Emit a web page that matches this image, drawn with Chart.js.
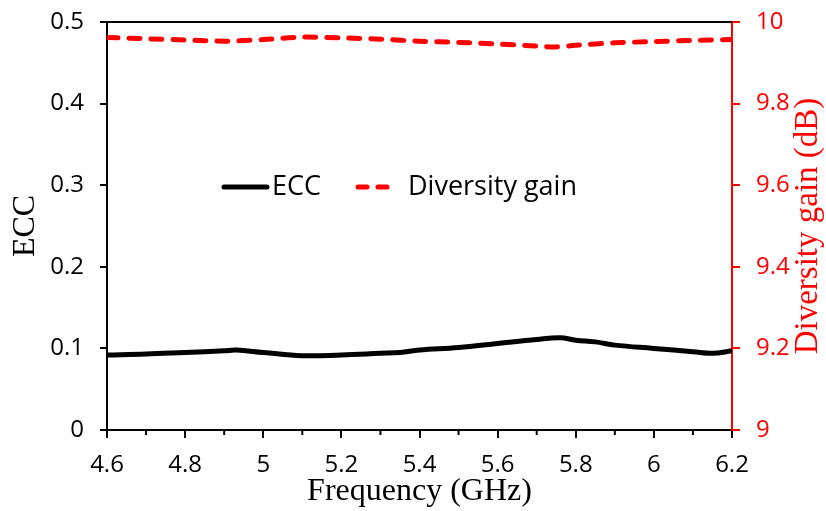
<!DOCTYPE html>
<html>
<head>
<meta charset="utf-8">
<script src="https://cdn.jsdelivr.net/npm/chart.js@4/dist/chart.umd.min.js"></script>
<style>
  body { margin: 0; background: #fff; }
  #wrap { width: 826px; height: 511px; }
</style>
</head>
<body>
<div id="wrap"><canvas id="eccChart" width="826" height="511"></canvas></div>
<script>
// values
const eccFreq = [4.6, 4.7, 4.8, 4.9, 4.93, 5.0, 5.1, 5.2, 5.3, 5.35, 5.4, 5.5, 5.6, 5.7, 5.76, 5.8, 5.85, 5.9, 6.0, 6.1, 6.15, 6.2]
const eccValues = [0.092, 0.093, 0.095, 0.097, 0.098, 0.095, 0.091, 0.092, 0.094, 0.095, 0.098, 0.101, 0.106, 0.111, 0.113, 0.110, 0.108, 0.104, 0.100, 0.096, 0.094, 0.097]

const dgFreq = [4.6, 4.7, 4.8, 4.9, 5.0, 5.1, 5.2, 5.3, 5.4, 5.5, 5.6, 5.7, 5.75, 5.8, 5.9, 6.0, 6.1, 6.2]
const dgValues = [9.962, 9.959, 9.956, 9.953, 9.957, 9.963, 9.961, 9.958, 9.953, 9.950, 9.946, 9.941, 9.939, 9.943, 9.949, 9.952, 9.955, 9.957]

const minorTicks = [4.7, 4.9, 5.1, 5.3, 5.5, 5.7, 5.9, 6.1]

const RED = '#ff0000'
const tickFont = { family: 'Open Sans', size: 24 }
// 5.0 -> "5", 9.20 -> "9.2"
const shortLabel = v => String(Number(v.toFixed(2)))

// keep the plot box where the reference has it
function fixWidth (w) {
  return scale => {
    scale.width = w
    scale.paddingTop = 0
    scale.paddingBottom = 0
  }
}

// Frame top line, minor x ticks, legend inside the plot and the right title
const extras = {
  id: 'extras',
  afterDraw (chart) {
    const { ctx, chartArea: ca, scales } = chart
    ctx.save()

    // top border
    ctx.strokeStyle = '#000'
    ctx.lineWidth = 2
    ctx.beginPath()
    ctx.moveTo(ca.left, ca.top)
    ctx.lineTo(ca.right, ca.top)
    ctx.stroke()

    // minor ticks
    minorTicks.forEach(v => {
      const px = scales.x.getPixelForValue(v)
      ctx.beginPath()
      ctx.moveTo(px, ca.bottom)
      ctx.lineTo(px, ca.bottom + 5)
      ctx.stroke()
    })

    // legend
    const ly = 187
    ctx.lineWidth = 5
    ctx.lineCap = 'round'
    ctx.strokeStyle = '#000'
    ctx.beginPath()
    ctx.moveTo(ca.left + 117, ly)
    ctx.lineTo(ca.left + 160, ly)
    ctx.stroke()
    ctx.strokeStyle = RED
    ctx.setLineDash([9, 11])
    ctx.beginPath()
    ctx.moveTo(ca.left + 251, ly)
    ctx.lineTo(ca.left + 285, ly)
    ctx.stroke()
    ctx.setLineDash([])

    ctx.fillStyle = '#000'
    ctx.font = '27px "Open Sans"'
    ctx.textBaseline = 'middle'
    ctx.textAlign = 'left'
    ctx.fillText('ECC', ca.left + 165, ly)
    ctx.fillText('Diversity gain', ca.left + 301, ly)

    // right axis title, reading bottom to top
    ctx.translate(808, (ca.top + ca.bottom) / 2)
    ctx.rotate(-Math.PI / 2)
    ctx.fillStyle = RED
    ctx.textAlign = 'center'
    ctx.font = '33px "Liberation Serif"'
    ctx.fillText('Diversity gain (dB)', 0, 0)
    ctx.restore()
  }
}

new Chart(document.getElementById('eccChart'), {
  type: 'line',
  plugins: [extras],
  data: {
    datasets: [
      {
        label: 'ECC',
        data: eccFreq.map((f, i) => ({ x: f, y: eccValues[i] })),
        borderColor: '#000',
        borderWidth: 5,
        pointRadius: 0,
        tension: 0.4,
        yAxisID: 'y'
      },
      {
        label: 'Diversity gain',
        data: dgFreq.map((f, i) => ({ x: f, y: dgValues[i] })),
        borderColor: RED,
        borderWidth: 5,
        borderDash: [11, 11],
        borderCapStyle: 'round',
        pointRadius: 0,
        tension: 0.3,
        yAxisID: 'y1'
      }
    ]
  },
  options: {
    responsive: false,
    animation: false,
    layout: { padding: { top: 22, left: 0, right: 0, bottom: 0 } },
    plugins: { legend: { display: false }, tooltip: { enabled: false } },
    scales: {
      x: {
        type: 'linear',
        min: 4.6,
        max: 6.2,
        afterFit (scale) { scale.height = 81 },
        ticks: { stepSize: 0.2, color: '#000', font: tickFont, padding: 13, maxRotation: 0, callback: shortLabel },
        grid: { drawOnChartArea: false, tickLength: 8, color: '#000', lineWidth: 2 },
        border: { color: '#000', width: 2 },
        title: {
          display: true,
          text: 'Frequency (GHz)',
          color: '#000',
          font: { family: 'Liberation Serif', size: 32, lineHeight: 1 },
          padding: { top: 0, bottom: 3 }
        }
      },
      y: {
        position: 'left',
        min: 0,
        max: 0.5,
        afterFit: fixWidth(107),
        ticks: { stepSize: 0.1, color: '#000', font: tickFont, padding: 16, callback: shortLabel },
        grid: { drawOnChartArea: false, tickLength: 7, color: '#000', lineWidth: 2 },
        border: { color: '#000', width: 2 },
        title: {
          display: true,
          text: 'ECC',
          color: '#000',
          font: { family: 'Liberation Serif', size: 32, lineHeight: 1 },
          padding: { top: 10, bottom: 0 }
        }
      },
      y1: {
        position: 'right',
        min: 9,
        max: 10,
        afterFit: fixWidth(94),
        ticks: { stepSize: 0.2, color: RED, font: tickFont, padding: 16, callback: shortLabel },
        grid: { drawOnChartArea: false, tickLength: 8, color: RED, lineWidth: 2 },
        border: { color: RED, width: 2 }
      }
    }
  }
})
</script>
</body>
</html>
